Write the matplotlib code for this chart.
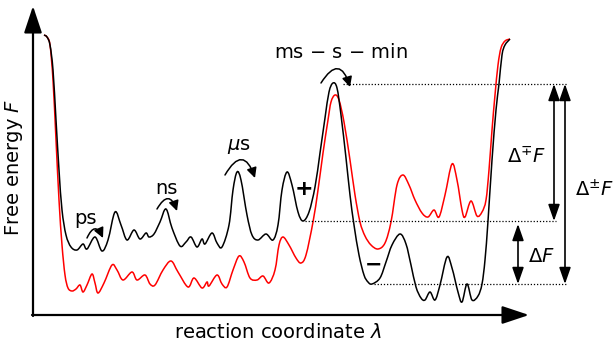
import numpy as np
import matplotlib.pyplot as plt
from matplotlib.path import Path
from matplotlib.patches import PathPatch, FancyArrowPatch

# free energy profiles, read as (lambda, F) in screen units (y grows downward)
black_x = [44, 47, 50, 53, 56, 59, 62, 66, 71, 77, 83, 87, 95, 102, 108, 115, 121, 127, 134, 140,
           146, 149, 154, 160, 166, 172, 180, 186, 191, 197, 202, 205, 212, 217, 222, 229, 233, 237,
           241, 247, 252, 258, 266, 273, 278, 282, 287, 292, 298, 303, 309, 315, 320, 325, 329, 333,
           337, 341, 346, 350, 354, 359, 364, 368, 372, 380, 386, 392, 400, 406, 411, 416, 421, 425,
           430, 435, 440, 447, 452, 458, 462, 467, 472, 478, 482, 485, 488, 492, 496, 499, 502, 505, 510]
black_y = [35, 37, 45, 70, 120, 170, 210, 235, 247, 250, 244, 249, 237, 251, 240, 212, 225, 240, 230, 239,
           233, 237, 234, 222, 209, 228, 246, 242, 237, 247, 239, 244, 233, 243, 247, 225, 190, 172,
           180, 215, 235, 240, 234, 240, 225, 190, 172, 185, 212, 221, 212, 187, 153, 118, 92, 83,
           88, 115, 158, 195, 225, 255, 275, 282, 284, 278, 262, 245, 234, 244, 265, 287, 298, 300,
           292, 300, 285, 257, 268, 292, 302, 284, 300, 296, 284, 260, 221, 160, 110, 84, 55, 45, 39]

red_x = [44, 47, 50, 53, 56, 59, 62, 65, 68, 72, 76, 80, 83, 87, 92, 95, 98, 104, 112, 117, 123, 132,
         137, 145, 150, 155, 163, 171, 178, 188, 194, 202, 207, 209, 217, 222, 227, 233, 239, 244, 250,
         257, 263, 269, 275, 279, 283, 289, 296, 301, 306, 313, 318, 323, 328, 331, 335, 339, 344, 350,
         355, 360, 365, 371, 378, 385, 391, 397, 403, 409, 415, 422, 428, 434, 439, 445, 452, 457, 462,
         465, 471, 477, 482, 486, 489, 492, 495, 498, 501, 505, 510]
red_y = [35, 37, 45, 80, 140, 200, 245, 275, 288, 291, 289, 285, 292, 285, 274, 283, 293, 283, 265, 270,
         280, 272, 280, 275, 284, 285, 270, 261, 272, 287, 278, 288, 282, 286, 275, 284, 287, 270, 256,
         262, 278, 280, 276, 283, 270, 245, 237, 245, 258, 263, 255, 222, 190, 153, 120, 102, 95, 100,
         122, 160, 195, 222, 236, 245, 249, 243, 222, 185, 175, 185, 200, 213, 217, 210, 217, 195, 164,
         180, 210, 217, 201, 216, 212, 200, 170, 130, 95, 65, 48, 41, 39]

# reference levels of the free energy
F_top = 84
F_mid = 221
F_low = 284


def smooth_path(xs, ys):
    # Catmull-Rom through the points, handed to matplotlib as cubic Bezier segments
    p = np.column_stack([xs, ys]).astype(float)
    verts = [p[0]]
    codes = [Path.MOVETO]
    for i in range(len(p) - 1):
        p0 = p[i - 1] if i > 0 else p[i]
        p3 = p[i + 2] if i + 2 < len(p) else p[i + 1]
        c1 = p[i] + (p[i + 1] - p0) / 6.0
        c2 = p[i + 1] - (p3 - p[i]) / 6.0
        verts += [c1, c2, p[i + 1]]
        codes += [Path.CURVE4] * 3
    return Path(verts, codes)


fig = plt.figure(figsize=(6.16, 3.42), dpi=100)
ax = fig.add_axes([0, 0, 1, 1])
ax.set_xlim(0, 616)
ax.set_ylim(342, 0)
ax.axis('off')

ax.add_patch(PathPatch(smooth_path(red_x, red_y), fill=False, edgecolor='#ff0000', lw=1.1))
ax.add_patch(PathPatch(smooth_path(black_x, black_y), fill=False, edgecolor='black', lw=1.1))

# axes with arrow heads
ax.annotate('', xy=(33, 6), xytext=(33, 316),
            arrowprops=dict(arrowstyle='-|>,head_length=1.5,head_width=0.5', lw=1.6,
                            color='black', mutation_scale=11, shrinkA=0, shrinkB=0))
ax.annotate('', xy=(529, 315), xytext=(32, 315),
            arrowprops=dict(arrowstyle='-|>,head_length=1.5,head_width=0.5', lw=1.6,
                            color='black', mutation_scale=11, shrinkA=0, shrinkB=0))

# dotted reference levels
ax.plot([343, 567], [F_top, F_top], color='black', ls=(0, (1, 1.5)), lw=0.9)
ax.plot([305, 556], [F_mid, F_mid], color='black', ls=(0, (1, 1.5)), lw=0.9)
ax.plot([374, 567], [F_low, F_low], color='black', ls=(0, (1, 1.5)), lw=0.9)

# barrier arrows
dbl = dict(arrowstyle='<|-|>,head_length=1.0,head_width=0.35', lw=1.2, color='black',
           mutation_scale=10, shrinkA=0, shrinkB=0)
ax.annotate('', xy=(554, F_top), xytext=(554, F_mid), arrowprops=dbl)
ax.annotate('', xy=(565, F_top), xytext=(565, F_low), arrowprops=dbl)
ax.annotate('', xy=(518, F_mid + 3), xytext=(518, F_low), arrowprops=dbl)

fs = 14
ax.text(526, 157, r'$\Delta^{\mp}F$', fontsize=fs, ha='center', va='center')
ax.text(594, 190, r'$\Delta^{\pm}F$', fontsize=fs, ha='center', va='center')
ax.text(541, 257, r'$\Delta F$', fontsize=fs, ha='center', va='center')

# timescale labels with hopping arrows
ax.text(86, 218, 'ps', fontsize=fs, ha='center', va='center')
ax.text(166, 188, 'ns', fontsize=fs, ha='center', va='center')
ax.text(239, 147, r'$\mu$s', fontsize=fs, ha='center', va='center')
ax.text(341, 52, r'ms $-$ s $-$ min', fontsize=fs, ha='center', va='center')

hops = [((87, 238), (103, 238)), ((157, 209), (177, 211)),
        ((225, 175), (255, 178)), ((321, 83), (350, 87))]
for a, b in hops:
    ax.add_patch(FancyArrowPatch(a, b, connectionstyle='arc3,rad=-1.1',
                                 arrowstyle='-|>,head_length=6,head_width=3',
                                 lw=1.1, color='black', shrinkA=0, shrinkB=0))

ax.text(304, 189, '+', fontsize=16, fontweight='bold', ha='center', va='center')
ax.text(374, 265, '\u2212', fontsize=15, fontweight='bold', ha='center', va='center')

ax.text(14, 167, r'Free energy $F$', fontsize=fs, rotation=90, ha='center', va='center')
ax.text(278, 333, r'reaction coordinate $\lambda$', fontsize=fs, ha='center', va='center')

fig.savefig('out.png', dpi=100)
